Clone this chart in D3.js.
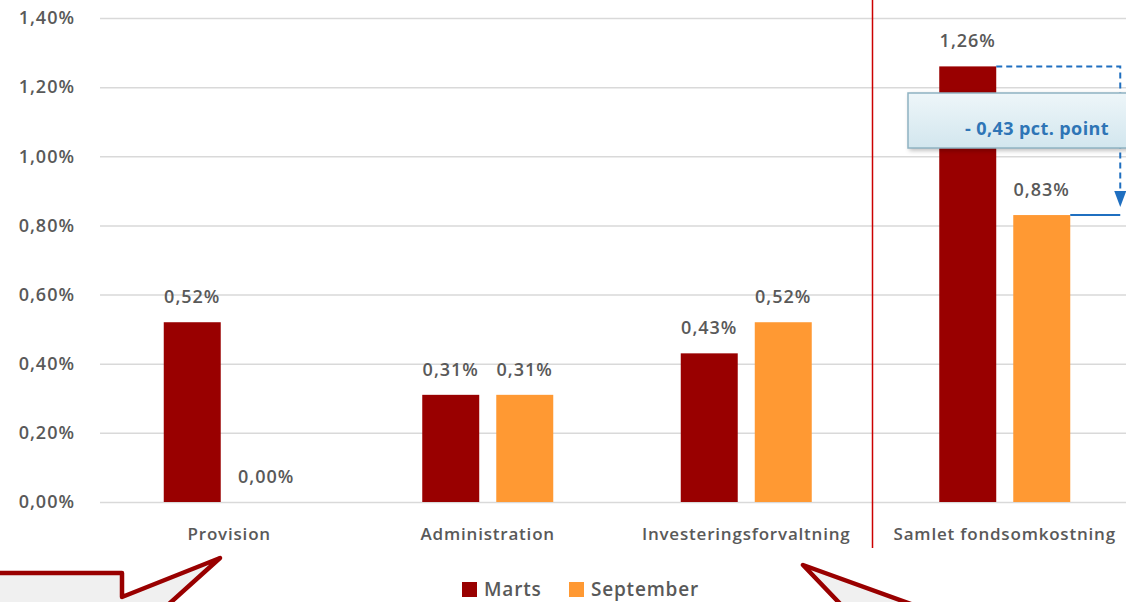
<!DOCTYPE html>
<html>
<head>
<meta charset="utf-8">
<script src="https://cdnjs.cloudflare.com/ajax/libs/d3/7.8.5/d3.min.js"></script>
<style>
  body { margin: 0; background: #fff; }
  svg text { font-family: "Open Sans", "Noto Sans", sans-serif; fill: #595959; }
</style>
</head>
<body>
<div class="chart"></div>
<script>
var width = 1126,
    height = 602;

// data
var categories = ["Provision", "Administration", "Investeringsforvaltning", "Samlet fondsomkostning"];
var series = ["Marts", "September"];
var marts = [0.52, 0.31, 0.43, 1.26];
var september = [0.00, 0.31, 0.52, 0.83];
var yTicks = [0, 0.2, 0.4, 0.6, 0.8, 1.0, 1.2, 1.4];
var colors = ["#990000", "#ff9933"];

var rows = categories.map(function(c, i) {
    return { cat: c, values: [marts[i], september[i]] };
});

var fmt = function(v) { return v.toFixed(2).replace(".", ",") + "%"; };

var svg = d3.select(".chart").append("svg")
            .attr("width", width)
            .attr("height", height);

var x0 = d3.scaleBand()
           .domain(categories)
           .range([100, 1134])
           .padding(0);

var x1 = d3.scaleBand()
           .domain(series)
           .range([-65.5, 65.5])
           .paddingInner(0.23);

var y = d3.scaleLinear()
          .domain([0, 1.4])
          .range([502, 18]);

// gridlines + y labels
var yAxis = d3.axisLeft(y)
              .tickValues(yTicks)
              .tickSize(-(1134 - 100))
              .tickPadding(25)
              .tickFormat(fmt);

var gy = svg.append("g")
            .attr("transform", "translate(100,0)")
            .call(yAxis);
gy.select(".domain").remove();
gy.selectAll(".tick line").attr("stroke", "#d9d9d9").attr("stroke-width", 1.5);
gy.selectAll(".tick text")
  .style("font-size", "18px")
  .style("letter-spacing", "1px")
  .style("font-weight", 600)
  .attr("fill", "#595959");

// category labels
svg.selectAll(".cat")
   .data(categories)
   .enter().append("text")
   .attr("class", "cat")
   .attr("x", function(d) { return x0(d) + x0.bandwidth() / 2; })
   .attr("y", 540)
   .attr("text-anchor", "middle")
   .style("font-size", "17px")
   .style("letter-spacing", "0.8px")
   .style("font-weight", 600)
   .text(function(d) { return d; });

// separator
svg.append("line")
   .attr("x1", x0(categories[3]) - 3)
   .attr("x2", x0(categories[3]) - 3)
   .attr("y1", 0)
   .attr("y2", 548)
   .attr("stroke", "#cc0000")
   .attr("stroke-width", 1.5);

// bars
var groups = svg.selectAll(".grp")
    .data(rows)
    .enter().append("g")
    .attr("class", "grp")
    .attr("transform", function(d) { return "translate(" + (x0(d.cat) + x0.bandwidth() / 2) + ",0)"; });

groups.selectAll("rect")
    .data(function(d) { return d.values.map(function(v, i) { return { s: series[i], v: v, i: i }; }); })
    .enter().append("rect")
    .attr("x", function(d) { return x1(d.s); })
    .attr("width", x1.bandwidth())
    .attr("y", function(d) { return y(d.v); })
    .attr("height", function(d) { return y(0) - y(d.v); })
    .attr("fill", function(d) { return colors[d.i]; });

groups.selectAll(".lbl")
    .data(function(d) { return d.values.map(function(v, i) { return { s: series[i], v: v, i: i }; }); })
    .enter().append("text")
    .attr("class", "lbl")
    .attr("x", function(d) { return x1(d.s) + x1.bandwidth() / 2; })
    .attr("y", function(d) { return y(d.v) - 19; })
    .attr("text-anchor", "middle")
    .style("font-size", "18px")
    .style("letter-spacing", "1px")
    .style("font-weight", 600)
    .text(function(d) { return fmt(d.v); });

// difference annotation
var cx = x0(categories[3]) + x0.bandwidth() / 2;
var mEnd = cx + x1("Marts") + x1.bandwidth();
var sEnd = cx + x1("September") + x1.bandwidth();
var ax = sEnd + 50;
var ay = y(september[3]);

svg.append("path")
   .attr("d", "M" + mEnd + "," + y(marts[3]) + " H" + ax + " V" + (ay - 22))
   .attr("fill", "none")
   .attr("stroke", "#1f6fc0")
   .attr("stroke-width", 2)
   .attr("stroke-dasharray", "6,4");

// arrow head
svg.append("path")
   .attr("d", "M" + (ax - 6) + "," + (ay - 24) + " L" + (ax + 6) + "," + (ay - 24) + " L" + ax + "," + (ay - 8) + " Z")
   .attr("fill", "#1f6fc0");

svg.append("line")
   .attr("x1", sEnd).attr("x2", ax)
   .attr("y1", ay).attr("y2", ay)
   .attr("stroke", "#1f6fc0")
   .attr("stroke-width", 2);

var grad = svg.append("defs").append("linearGradient")
   .attr("id", "boxg").attr("x1", 0).attr("y1", 0).attr("x2", 0).attr("y2", 1);
grad.append("stop").attr("offset", "0%").attr("stop-color", "#eef6f9");
grad.append("stop").attr("offset", "100%").attr("stop-color", "#d2e6ee");

svg.append("rect")
   .attr("x", 908).attr("y", 93)
   .attr("width", 240).attr("height", 55)
   .attr("fill", "url(#boxg)")
   .attr("stroke", "#8fb3c2")
   .attr("stroke-width", 1.5)
   .style("filter", "drop-shadow(2px 2px 2px rgba(0,0,0,0.25))");

svg.append("text")
   .attr("x", 1109).attr("y", 135)
   .attr("text-anchor", "end")
   .style("font-size", "18px")
   .style("letter-spacing", "0.4px")
   .style("font-weight", 700)
   .style("fill", "#2e75b6")
   .text("- " + (marts[3] - september[3]).toFixed(2).replace(".", ",") + " pct. point");

// legend
var legend = svg.append("g").attr("transform", "translate(462,582)");
var lx = [0, 107];
series.forEach(function(s, i) {
    legend.append("rect")
          .attr("x", lx[i]).attr("y", 0)
          .attr("width", 15).attr("height", 15)
          .attr("fill", colors[i]);
    legend.append("text")
          .attr("x", lx[i] + 22).attr("y", 14)
          .style("font-size", "19px")
          .style("letter-spacing", "0.8px")
          .style("font-weight", 600)
          .text(s);
});

// callout shapes
var callouts = [
    [[-10, 573], [122, 573], [122, 597], [220, 558], [160, 612], [-10, 612]],
    [[803, 565], [933, 612], [848, 612]]
];
svg.selectAll(".callout")
   .data(callouts)
   .enter().append("path")
   .attr("class", "callout")
   .attr("d", function(d) { return d3.line()(d) + "Z"; })
   .attr("fill", "#f0f0f0")
   .attr("stroke", "#990000")
   .attr("stroke-width", 4.5)
   .attr("stroke-linejoin", "round");
</script>
</body>
</html>
